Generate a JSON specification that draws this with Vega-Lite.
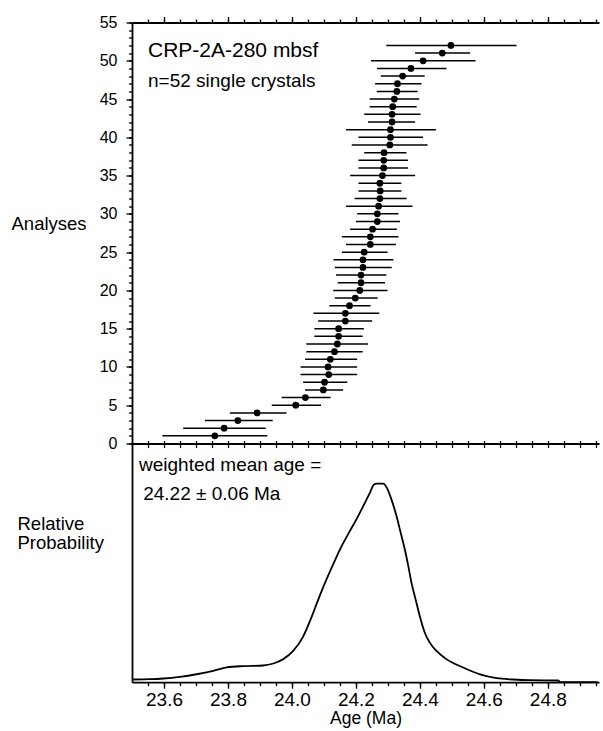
{
  "$schema": "https://vega.github.io/schema/vega-lite/v6.json",
  "padding": {"left": 11, "top": 14.5, "right": 0, "bottom": 0},
  "autosize": {"type": "pad"},
  "bounds": "flush",
  "spacing": 0,
  "background": "white",
  "config": {
    "view": {"stroke": null},
    "font": "Liberation Sans",
    "axis": {"labelColor": "black", "titleColor": "black", "domainColor": "black", "tickColor": "black", "labelFont": "Liberation Sans", "titleFont": "Liberation Sans", "titleFontWeight": "normal", "grid": false, "domainWidth": 1.8, "tickWidth": 1.3},
    "text": {"font": "Liberation Sans", "color": "black"}
  },
  "datasets": {
    "analyses": [
      {"n": 1, "age": 23.759, "lo": 23.595, "hi": 23.923},
      {"n": 2, "age": 23.788, "lo": 23.660, "hi": 23.918},
      {"n": 3, "age": 23.831, "lo": 23.728, "hi": 23.940},
      {"n": 4, "age": 23.891, "lo": 23.806, "hi": 23.983},
      {"n": 5, "age": 24.012, "lo": 23.937, "hi": 24.091},
      {"n": 6, "age": 24.042, "lo": 23.968, "hi": 24.121},
      {"n": 7, "age": 24.098, "lo": 24.041, "hi": 24.160},
      {"n": 8, "age": 24.102, "lo": 24.035, "hi": 24.173},
      {"n": 9, "age": 24.115, "lo": 24.027, "hi": 24.204},
      {"n": 10, "age": 24.113, "lo": 24.027, "hi": 24.204},
      {"n": 11, "age": 24.120, "lo": 24.041, "hi": 24.204},
      {"n": 12, "age": 24.133, "lo": 24.045, "hi": 24.221},
      {"n": 13, "age": 24.142, "lo": 24.045, "hi": 24.238},
      {"n": 14, "age": 24.146, "lo": 24.070, "hi": 24.221},
      {"n": 15, "age": 24.146, "lo": 24.070, "hi": 24.225},
      {"n": 16, "age": 24.167, "lo": 24.082, "hi": 24.251},
      {"n": 17, "age": 24.167, "lo": 24.067, "hi": 24.273},
      {"n": 18, "age": 24.180, "lo": 24.117, "hi": 24.246},
      {"n": 19, "age": 24.198, "lo": 24.134, "hi": 24.268},
      {"n": 20, "age": 24.212, "lo": 24.129, "hi": 24.299},
      {"n": 21, "age": 24.216, "lo": 24.143, "hi": 24.291},
      {"n": 22, "age": 24.216, "lo": 24.138, "hi": 24.295},
      {"n": 23, "age": 24.222, "lo": 24.134, "hi": 24.312},
      {"n": 24, "age": 24.222, "lo": 24.130, "hi": 24.317},
      {"n": 25, "age": 24.226, "lo": 24.156, "hi": 24.299},
      {"n": 26, "age": 24.245, "lo": 24.169, "hi": 24.325},
      {"n": 27, "age": 24.245, "lo": 24.156, "hi": 24.333},
      {"n": 28, "age": 24.252, "lo": 24.182, "hi": 24.328},
      {"n": 29, "age": 24.267, "lo": 24.200, "hi": 24.338},
      {"n": 30, "age": 24.267, "lo": 24.204, "hi": 24.333},
      {"n": 31, "age": 24.271, "lo": 24.169, "hi": 24.377},
      {"n": 32, "age": 24.275, "lo": 24.196, "hi": 24.359},
      {"n": 33, "age": 24.276, "lo": 24.208, "hi": 24.342},
      {"n": 34, "age": 24.275, "lo": 24.208, "hi": 24.342},
      {"n": 35, "age": 24.283, "lo": 24.182, "hi": 24.385},
      {"n": 36, "age": 24.287, "lo": 24.208, "hi": 24.363},
      {"n": 37, "age": 24.287, "lo": 24.208, "hi": 24.363},
      {"n": 38, "age": 24.288, "lo": 24.226, "hi": 24.358},
      {"n": 39, "age": 24.306, "lo": 24.187, "hi": 24.424},
      {"n": 40, "age": 24.308, "lo": 24.208, "hi": 24.410},
      {"n": 41, "age": 24.308, "lo": 24.169, "hi": 24.450},
      {"n": 42, "age": 24.313, "lo": 24.238, "hi": 24.385},
      {"n": 43, "age": 24.313, "lo": 24.226, "hi": 24.402},
      {"n": 44, "age": 24.315, "lo": 24.243, "hi": 24.390},
      {"n": 45, "age": 24.320, "lo": 24.243, "hi": 24.398},
      {"n": 46, "age": 24.328, "lo": 24.265, "hi": 24.393},
      {"n": 47, "age": 24.330, "lo": 24.260, "hi": 24.405},
      {"n": 48, "age": 24.346, "lo": 24.278, "hi": 24.415},
      {"n": 49, "age": 24.372, "lo": 24.266, "hi": 24.483},
      {"n": 50, "age": 24.410, "lo": 24.247, "hi": 24.574},
      {"n": 51, "age": 24.470, "lo": 24.385, "hi": 24.557},
      {"n": 52, "age": 24.497, "lo": 24.295, "hi": 24.702}
    ],
    "density": [
      {"age": 23.504, "p": 0.0135},
      {"age": 23.556, "p": 0.015},
      {"age": 23.598, "p": 0.0185},
      {"age": 23.650, "p": 0.027},
      {"age": 23.702, "p": 0.040},
      {"age": 23.754, "p": 0.057},
      {"age": 23.796, "p": 0.074},
      {"age": 23.848, "p": 0.081},
      {"age": 23.910, "p": 0.084},
      {"age": 23.942, "p": 0.094},
      {"age": 23.973, "p": 0.116},
      {"age": 24.004, "p": 0.157},
      {"age": 24.035, "p": 0.229},
      {"age": 24.062, "p": 0.330},
      {"age": 24.082, "p": 0.414},
      {"age": 24.103, "p": 0.498},
      {"age": 24.126, "p": 0.582},
      {"age": 24.150, "p": 0.667},
      {"age": 24.178, "p": 0.751},
      {"age": 24.207, "p": 0.835},
      {"age": 24.228, "p": 0.902},
      {"age": 24.244, "p": 0.953},
      {"age": 24.256, "p": 0.993},
      {"age": 24.265, "p": 0.998},
      {"age": 24.285, "p": 0.998},
      {"age": 24.298, "p": 0.973},
      {"age": 24.311, "p": 0.919},
      {"age": 24.327, "p": 0.835},
      {"age": 24.340, "p": 0.751},
      {"age": 24.353, "p": 0.667},
      {"age": 24.364, "p": 0.582},
      {"age": 24.374, "p": 0.498},
      {"age": 24.387, "p": 0.414},
      {"age": 24.400, "p": 0.330},
      {"age": 24.416, "p": 0.246},
      {"age": 24.431, "p": 0.199},
      {"age": 24.452, "p": 0.157},
      {"age": 24.483, "p": 0.116},
      {"age": 24.535, "p": 0.074},
      {"age": 24.588, "p": 0.039},
      {"age": 24.640, "p": 0.020},
      {"age": 24.692, "p": 0.0135},
      {"age": 24.744, "p": 0.010},
      {"age": 24.832, "p": 0.0085},
      {"age": 24.840, "p": 0.0},
      {"age": 24.956, "p": 0.0}
    ]
  },
  "vconcat": [
    {
      "width": 467,
      "height": 421,
      "resolve": {"axis": {"x": "independent", "y": "independent"}},
      "layer": [
        {
          "data": {"name": "analyses"},
          "mark": {"type": "rule", "color": "black", "strokeWidth": 1.5},
          "encoding": {
            "x": {"field": "lo", "type": "quantitative", "scale": {"domain": [23.5, 24.96], "nice": false, "zero": false},
                  "axis": {"orient": "top", "values": [23.6, 23.8, 24.0, 24.2, 24.4, 24.6, 24.8], "labels": false, "tickSize": 6, "title": null}},
            "x2": {"field": "hi"},
            "y": {"field": "n", "type": "quantitative", "scale": {"domain": [0, 55], "nice": false, "zero": false},
                  "axis": {"orient": "left", "values": [0, 5, 10, 15, 20, 25, 30, 35, 40, 45, 50, 55], "tickSize": 6, "labelPadding": 9, "labelFontSize": 16,
                           "title": "Analyses", "titleAngle": 0, "titleAlign": "left", "titleBaseline": "middle", "titleX": -121, "titleY": 201, "titleFontSize": 18.5}}
          }
        },
        {
          "data": {"name": "analyses"},
          "mark": {"type": "circle", "color": "black", "size": 46, "opacity": 1},
          "encoding": {
            "x": {"field": "age", "type": "quantitative", "scale": {"domain": [23.5, 24.96], "nice": false, "zero": false},
                  "axis": {"orient": "top", "values": [23.55, 23.6, 23.65, 23.7, 23.75, 23.8, 23.85, 23.9, 23.95, 24.0, 24.05, 24.1, 24.15, 24.2, 24.25, 24.3, 24.35, 24.4, 24.45, 24.5, 24.55, 24.6, 24.65, 24.7, 24.75, 24.8, 24.85, 24.9, 24.95], "labels": false, "domain": false, "tickSize": 3.5, "title": null}},
            "y": {"field": "n", "type": "quantitative", "scale": {"domain": [0, 55], "nice": false, "zero": false},
                  "axis": {"orient": "left", "values": [0,1,2,3,4,5,6,7,8,9,10,11,12,13,14,15,16,17,18,19,20,21,22,23,24,25,26,27,28,29,30,31,32,33,34,35,36,37,38,39,40,41,42,43,44,45,46,47,48,49,50,51,52,53,54,55], "labels": false, "domain": false, "tickSize": 3.5, "title": null}}
          }
        },
        {
          "data": {"values": [{"label": "CRP-2A-280 mbsf"}]},
          "mark": {"type": "text", "align": "left", "baseline": "middle", "fontSize": 21},
          "encoding": {
            "x": {"datum": 23.55, "type": "quantitative", "scale": {"domain": [23.5, 24.96], "nice": false, "zero": false},
                  "axis": {"orient": "bottom", "values": [23.55, 23.6, 23.65, 23.7, 23.75, 23.8, 23.85, 23.9, 23.95, 24.0, 24.05, 24.1, 24.15, 24.2, 24.25, 24.3, 24.35, 24.4, 24.45, 24.5, 24.55, 24.6, 24.65, 24.7, 24.75, 24.8, 24.85, 24.9, 24.95], "labels": false, "tickSize": 4, "title": null}},
            "y": {"datum": 51.3, "type": "quantitative", "scale": {"domain": [0, 55], "nice": false, "zero": false}, "axis": null},
            "text": {"field": "label"}
          }
        },
        {
          "data": {"values": [{"label": "n=52 single crystals"}]},
          "mark": {"type": "text", "align": "left", "baseline": "middle", "fontSize": 19},
          "encoding": {
            "x": {"datum": 23.55, "type": "quantitative", "scale": {"domain": [23.5, 24.96], "nice": false, "zero": false}, "axis": null},
            "y": {"datum": 47.4, "type": "quantitative", "scale": {"domain": [0, 55], "nice": false, "zero": false}, "axis": null},
            "text": {"field": "label"}
          }
        }
      ]
    },
    {
      "width": 467,
      "height": 238.7,
      "resolve": {"axis": {"x": "independent", "y": "independent"}},
      "layer": [
        {
          "data": {"name": "density"},
          "mark": {"type": "line", "color": "black", "strokeWidth": 1.8, "interpolate": "monotone"},
          "encoding": {
            "x": {"field": "age", "type": "quantitative", "scale": {"domain": [23.5, 24.96], "nice": false, "zero": false},
                  "axis": {"orient": "bottom", "values": [23.6, 23.8, 24.0, 24.2, 24.4, 24.6, 24.8], "format": ".1f", "tickSize": 6, "labelFontSize": 19, "labelPadding": 2, "labelFlush": false,
                           "title": "Age (Ma)", "titleFontSize": 17.5, "titlePadding": 0}},
            "y": {"field": "p", "type": "quantitative", "scale": {"domain": [0, 1.2], "nice": false, "zero": false},
                  "axis": {"orient": "left", "ticks": false, "labels": false, "title": ["Relative", "Probability"], "titleAngle": 0, "titleAlign": "left", "titleBaseline": "middle",
                           "titleX": -115, "titleY": 80, "titleLineHeight": 19, "titleFontSize": 18.5}}
          }
        },
        {
          "data": {"values": [{"label": "weighted mean age ="}]},
          "mark": {"type": "text", "align": "left", "baseline": "middle", "fontSize": 19},
          "encoding": {
            "x": {"datum": 23.522, "type": "quantitative", "scale": {"domain": [23.5, 24.96], "nice": false, "zero": false},
                  "axis": {"orient": "bottom", "values": [23.55, 23.6, 23.65, 23.7, 23.75, 23.8, 23.85, 23.9, 23.95, 24.0, 24.05, 24.1, 24.15, 24.2, 24.25, 24.3, 24.35, 24.4, 24.45, 24.5, 24.55, 24.6, 24.65, 24.7, 24.75, 24.8, 24.85, 24.9, 24.95], "labels": false, "domain": false, "tickSize": 3.5, "title": null}},
            "y": {"datum": 1.091, "type": "quantitative", "scale": {"domain": [0, 1.2], "nice": false, "zero": false}, "axis": null},
            "text": {"field": "label"}
          }
        },
        {
          "data": {"values": [{"label": "24.22 ± 0.06 Ma"}]},
          "mark": {"type": "text", "align": "left", "baseline": "middle", "fontSize": 19},
          "encoding": {
            "x": {"datum": 23.535, "type": "quantitative", "scale": {"domain": [23.5, 24.96], "nice": false, "zero": false},
                  "axis": {"orient": "top", "values": [23.55, 23.6, 23.65, 23.7, 23.75, 23.8, 23.85, 23.9, 23.95, 24.0, 24.05, 24.1, 24.15, 24.2, 24.25, 24.3, 24.35, 24.4, 24.45, 24.5, 24.55, 24.6, 24.65, 24.7, 24.75, 24.8, 24.85, 24.9, 24.95], "labels": false, "domain": false, "tickSize": 3, "title": null}},
            "y": {"datum": 0.944, "type": "quantitative", "scale": {"domain": [0, 1.2], "nice": false, "zero": false}, "axis": null},
            "text": {"field": "label"}
          }
        }
      ]
    }
  ]
}
